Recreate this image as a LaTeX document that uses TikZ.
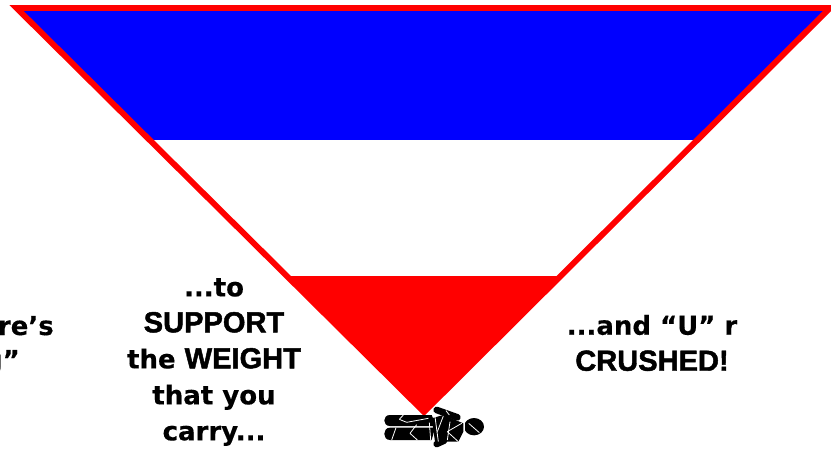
\documentclass[tikz,border=0pt]{standalone}
\usepackage{fontspec}
\setmainfont[FakeBold=0.4]{DejaVu Sans}
\newfontfamily\heavyfont[FakeBold=1.6]{Liberation Sans}
\newcommand{\heavy}[1]{{\fontsize{21.8}{27}\heavyfont\bfseries #1}}
\tikzset{
  caption/.style={font=\fontsize{19.5}{27}\selectfont\bfseries,align=center,inner sep=0pt,text=black},
  crack/.style={white,line width=0.6pt},
  limb/.style={black,line width=5pt,line cap=round}
}
\begin{document}
\begin{tikzpicture}[x=0.75pt,y=-0.75pt]
  \useasboundingbox (0,0) rectangle (831,449);
  \coordinate (tl) at (16.5,8);
  \coordinate (tr) at (830,8);
  \coordinate (apex) at (424,412);
  \fill[blue] (tl) -- (tr) -- (697.5,140) -- (149.7,140) -- cycle;
  \fill[red] (286.8,276) -- (561,276) -- (apex) -- cycle;
  \draw[red,line width=4.4pt,miter limit=10] (tl) -- (tr) -- (apex) -- cycle;
  \node[caption] (support) at (214,362) {...to\\\heavy{SUPPORT}\\the \heavy{WEIGHT}\\that you\\carry...};
  \node[caption] (crushed) at (652,343) {...and “U” r\\\heavy{CRUSHED!}};
  \node[caption,anchor=base east] (cutupper) at (54,335) {re’s};
  \node[caption,anchor=base east] (cutlower) at (20,369) {g”};
  % figure under the tip
  \begin{scope}[shift={(360,390)},x=0.25pt,y=-0.25pt]
    \fill[black] (90,75) -- (215,75) -- (228,108) -- (90,108) .. controls (67,108) and (67,75) .. (90,75) -- cycle;
    \fill[black] (90,113) -- (225,113) -- (215,150) -- (90,150) .. controls (67,150) and (67,113) .. (90,113) -- cycle;
    \fill[black] (215,85) -- (250,75) -- (310,100) -- (310,125) -- (295,155) -- (225,155) -- cycle;
    \draw[limb] (230,60) -- (292,82);
    \draw[limb] (230,162) -- (252,152);
    \fill[black] (342,110) ellipse (30*0.25pt and 26*0.25pt);
    \foreach \a/\b in {{130,75}/{118,88},{118,88}/{140,97},{140,97}/{205,85},{108,113}/{95,150},{170,104}/{150,130},{150,130}/{172,150},{208,98}/{212,150},{225,80}/{235,155},{250,78}/{232,125},{270,95}/{262,150},{305,100}/{262,125},{262,125}/{295,155},{258,62}/{268,75},{326,100}/{358,128},{312,85}/{312,135}}
      \draw[crack] (\a) -- (\b);
  \end{scope}
\end{tikzpicture}
\end{document}
